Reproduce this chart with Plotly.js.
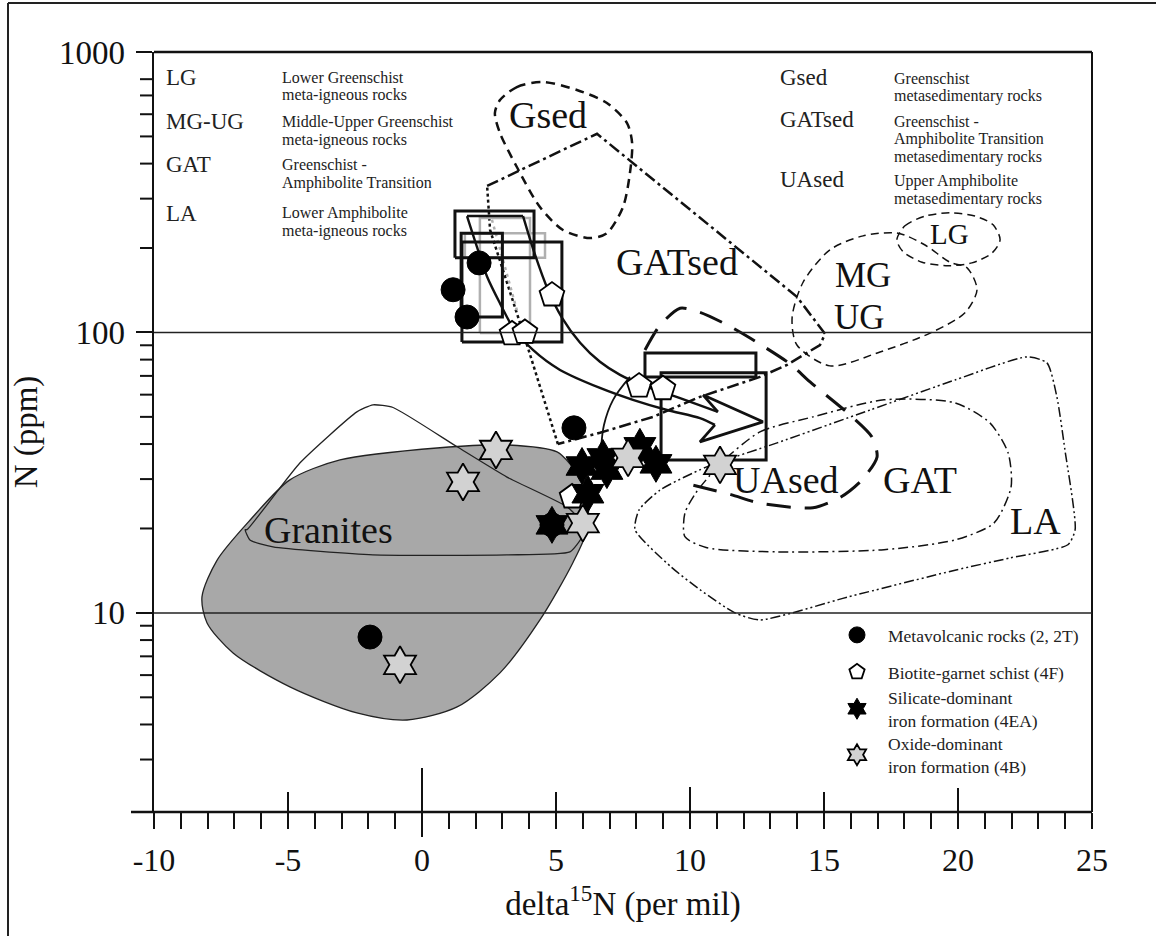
<!DOCTYPE html>
<html><head><meta charset="utf-8">
<script src="https://cdn.plot.ly/plotly-3.0.1.min.js"></script>
<style>body{margin:0;background:#fff}#chart{width:1156px;height:936px}</style>
</head><body><div id="chart"></div>
<script>
// ---------- DATA (delta15N in per mil, N in ppm) ----------
const metavolcanicX = [2.13, 1.16, 1.68, 5.67, -1.94, 4.85];
const metavolcanicY = [177, 142, 113.5, 45.7, 8.2, 20.6];
const schistX = [4.85, 3.36, 3.84, 8.10, 8.99, 5.6];
const schistY = [136, 98.8, 100, 64.4, 63, 25.9];
const silicateX = [5.97, 6.75, 6.90, 8.13, 8.73, 6.19, 4.85];
const silicateY = [33.4, 35.7, 32.3, 39.1, 34.0, 26.6, 20.6];
const oxideX = [2.76, 1.53, -0.82, 6.0, 11.12, 7.69];
const oxideY = [38.1, 29.3, 6.53, 20.9, 33.7, 35.7];

const granitesX = [5.63, 5.04, 3.17, 0.67, -3.06, -4.93, -6.42, -7.65, -8.21, -8.02, -7.05, -4.93, -2.43, -0.56, 1.31, 2.91, 4.40, 5.63, 6.16, 6.16, 5.90, 5.63];
const granitesY = [33.1, 37.5, 39.7, 38.8, 35.1, 29.8, 21.4, 15.4, 11.4, 9.21, 7.2, 5.45, 4.40, 4.15, 4.62, 6.11, 9.44, 15.1, 19.8, 27.4, 31.0, 33.1];
const granOutlineX = [-6.53, -4.55, -2.43, -1.83, -1.08, 1.31, 3.17, 5.41, 5.90, 5.97, 5.52, 3.17, -1.83, -5.56, -6.42, -6.6, -6.53];
const granOutlineY = [19.8, 34.3, 52.1, 55.2, 54, 39.1, 30.5, 23.9, 21.4, 18.7, 16.5, 16.1, 16.1, 17.2, 18.2, 19.8, 19.8];

const gsedX = [2.91, 3.54, 4.51, 5.78, 6.90, 7.65, 7.84, 7.76, 7.50, 6.90, 6.27, 5.26, 4.40, 3.54, 2.91, 2.72, 2.91];
const gsedY = [674, 750, 782, 732, 658, 558, 474, 371, 280, 226, 217, 232, 280, 389, 514, 606, 674];
const gatsedX = [2.43, 6.53, 13.99, 15.04, 14.85, 13.62, 12.61, 10.37, 8.62, 6.64, 5.07];
const gatsedY = [333, 511, 134, 98.8, 90.2, 76.6, 69.4, 58.9, 50.0, 43.9, 40.0];
const gatsedDotX = [5.07, 3.92, 2.54, 2.43];
const gatsedDotY = [40.0, 90.2, 232, 333];
const mgugX = [20.34, 20.71, 20.26, 18.96, 17.09, 15.22, 13.99, 13.81, 14.22, 15.22, 16.46, 17.76, 18.77, 19.70, 20.34];
const mgugY = [170, 142, 117.5, 99.5, 85.2, 76, 90.2, 113, 151, 197, 221, 226, 205, 178, 170];
const lgX = [17.72, 18.02, 18.77, 19.70, 20.63, 21.31, 21.57, 21.27, 20.52, 19.63, 18.66, 17.95, 17.72];
const lgY = [214, 240, 260, 267, 260, 242, 214, 192, 177, 173, 178, 194, 214];
const gatX = [11.19, 12.61, 14.59, 17.24, 19.89, 21.19, 21.87, 21.98, 21.34, 19.89, 17.24, 13.25, 10.60, 9.81, 9.81, 10.22, 10.75, 11.19];
const gatY = [34.5, 44.2, 50.0, 57.5, 56.1, 47.6, 37.2, 28.1, 20.9, 18.2, 16.8, 16.5, 17.1, 18.7, 22.7, 26.8, 31.0, 34.5];
const laX = [22.57, 23.32, 23.69, 23.99, 24.37, 24.10, 21.94, 19.89, 15.90, 12.61, 11.68, 10.37, 9.29, 7.95, 8.10, 8.88, 10.60, 13.25, 16.72, 19.89, 22.57];
const laY = [81.8, 77.9, 58.9, 38.1, 19.8, 17.5, 15.7, 14.2, 11.4, 9.44, 10, 12.1, 14.6, 19.8, 23.3, 27.4, 33.1, 40.4, 52.9, 67.7, 81.8];
const uasedX = [8.32, 8.88, 9.63, 10.37, 11.42, 12.24, 13.73, 14.48, 15.97, 16.79, 16.98, 16.42, 15.63, 14.59, 12.61, 11.53, 10.07];
const uasedY = [86.6, 106, 122, 118, 106, 95.5, 77.3, 66.6, 50.8, 42.4, 36.0, 29.8, 25.9, 23.7, 24.6, 26.4, 28.6];

const blackBoxX0 = [1.23, 1.49, 1.46, 8.32, 8.92];
const blackBoxX1 = [4.18, 5.22, 3.0, 12.46, 12.84];
const blackBoxY0 = [184.5, 92.5, 113.5, 69.4, 35.1];
const blackBoxY1 = [271, 210, 226, 84.5, 71.8];
const grayBoxX0 = [2.16, 1.6];
const grayBoxX1 = [4.03, 4.59];
const grayBoxY0 = [99.5, 184.5];
const grayBoxY1 = [256, 226];
const grayTieX = [2.61, 3.54];
const grayTieY = [252, 120];

const arrowUpperX = [3.77, 4.22, 4.70, 5.22, 5.90, 6.64, 7.39, 8.32, 9.63, 11.04];
const arrowUpperY = [260, 189, 142, 113, 91.9, 78.6, 70.6, 64.4, 58.3, 52.1];
const arrowLowerX = [1.68, 2.05, 2.43, 2.91, 3.40, 4.14, 5.15, 6.64, 7.87, 9.14, 10.37, 10.93];
const arrowLowerY = [260, 202, 158, 127, 104, 86.6, 73.5, 63.4, 57.5, 52.9, 49.5, 46.8];
const arrowTailX = [1.68, 3.77];
const arrowTailY = [260, 260];
const arrowHeadX = [11.04, 10.49, 12.72, 10.37, 10.93];
const arrowHeadY = [52.1, 59.8, 48.0, 40.7, 46.8];
const tieLineX = [7.76, 7.13, 6.79, 6.68];
const tieLineY = [69.4, 57.5, 46.8, 38.1];

const xTickVals = [-10, -5, 0, 5, 10, 15, 20, 25];
const xTickText = ['-10', '-5', '0', '5', '10', '15', '20', '25'];
const xUpTicks = [-5, 0, 5, 10, 15, 20];
const yTickVals = [10, 100, 1000];
const yTickText = ['10', '100', '1000'];
const yMinorTicks = [3,4,5,6,7,8,9,20,30,40,50,60,70,80,90,200,300,400,500,600,700,800];
const gridVals = [10, 100];

const regionLabels = ['Gsed', 'GATsed', 'MG', 'UG', 'LG', 'UAsed', 'GAT', 'LA', 'Granites'];
const regionLabelX = [4.70, 9.51, 16.46, 16.34, 19.70, 13.6, 18.6, 22.9, -3.5];
const regionLabelY = [596, 178, 160, 113.5, 225, 29.8, 29.8, 21.2, 19.8];

const keyLeftCodes = ['LG', 'MG-UG', 'GAT', 'LA'];
const keyLeftDesc = [['Lower Greenschist', 'meta-igneous rocks'], ['Middle-Upper Greenschist', 'meta-igneous rocks'], ['Greenschist -', 'Amphibolite Transition'], ['Lower Amphibolite', 'meta-igneous rocks']];
const keyRightCodes = ['Gsed', 'GATsed', 'UAsed'];
const keyRightDesc = [['Greenschist', 'metasedimentary rocks'], ['Greenschist -', 'Amphibolite Transition', 'metasedimentary rocks'], ['Upper Amphibolite', 'metasedimentary rocks']];

const seriesNames = ['Metavolcanic rocks (2, 2T)', 'Biotite-garnet schist (4F)', 'Silicate-dominant<br>iron formation (4EA)', 'Oxide-dominant<br>iron formation (4B)'];

// ---------- LAYOUT HELPERS ----------
const FONT = 'Liberation Serif, Times New Roman, serif';
const L = 154, R = 1092, T = 52, B = 812;
const px2x = p => (p - L) / (R - L);
const px2y = p => (B - p) / (B - T);

const traces = [];
function line(x, y, style, extra) {
  traces.push(Object.assign({type: 'scatter', mode: 'lines', x: x, y: y, showlegend: false, hoverinfo: 'skip', line: style}, extra || {}));
}
line(granitesX, granitesY, {color: '#222', width: 1.3, shape: 'spline', smoothing: 0.8}, {fill: 'toself', fillcolor: '#a8a8a8'});
line(granOutlineX, granOutlineY, {color: '#222', width: 1.3, shape: 'spline', smoothing: 0.5});
line(gsedX, gsedY, {color: '#111', width: 2.5, dash: '9px,6px', shape: 'spline', smoothing: 0.8});
line(gatsedX, gatsedY, {color: '#111', width: 2.5, dash: '12px,4px,3px,4px'});
line(gatsedDotX, gatsedDotY, {color: '#111', width: 2.5, dash: '3px,3px'});
line(mgugX, mgugY, {color: '#111', width: 1.5, dash: '8px,5px', shape: 'spline', smoothing: 0.8});
line(lgX, lgY, {color: '#111', width: 1.5, dash: '8px,5px', shape: 'spline', smoothing: 0.8});
line(gatX, gatY, {color: '#111', width: 1.5, dash: '10px,4px,2px,4px', shape: 'spline', smoothing: 0.7});
line(laX, laY, {color: '#111', width: 1.5, dash: '10px,3px,2px,3px,2px,3px', shape: 'spline', smoothing: 0.6});
line(uasedX, uasedY, {color: '#111', width: 3, dash: '24px,14px', shape: 'spline', smoothing: 0.7});
for (let i = 0; i < grayBoxX0.length; i++) {
  line([grayBoxX0[i], grayBoxX1[i], grayBoxX1[i], grayBoxX0[i], grayBoxX0[i]],
       [grayBoxY0[i], grayBoxY0[i], grayBoxY1[i], grayBoxY1[i], grayBoxY0[i]], {color: '#b0b0b0', width: 2.5});
}
line(grayTieX, grayTieY, {color: '#b0b0b0', width: 2.5, dash: '3px,4px'});
for (let i = 0; i < blackBoxX0.length; i++) {
  line([blackBoxX0[i], blackBoxX1[i], blackBoxX1[i], blackBoxX0[i], blackBoxX0[i]],
       [blackBoxY0[i], blackBoxY0[i], blackBoxY1[i], blackBoxY1[i], blackBoxY0[i]], {color: '#111', width: 3});
}
line(arrowUpperX, arrowUpperY, {color: '#111', width: 2.4, shape: 'spline', smoothing: 0.8});
line(arrowLowerX, arrowLowerY, {color: '#111', width: 2.4, shape: 'spline', smoothing: 0.8});
line(arrowTailX, arrowTailY, {color: '#111', width: 2.4});
line(arrowHeadX, arrowHeadY, {color: '#111', width: 2.8});
line(tieLineX, tieLineY, {color: '#111', width: 1.8, shape: 'spline'});

const markerStyles = [
  {symbol: 'circle', size: 24, color: '#000', line: {color: '#000', width: 1}},
  {symbol: 'pentagon', size: 26, color: '#fff', line: {color: '#000', width: 1.8}},
  {symbol: 'hexagram', size: 28, color: '#000', line: {color: '#000', width: 1}},
  {symbol: 'hexagram', size: 28, color: '#d2d2d2', line: {color: '#000', width: 1.8}}
];
const seriesX = [metavolcanicX, schistX, silicateX, oxideX];
const seriesY = [metavolcanicY, schistY, silicateY, oxideY];
const legendIds = ['legend', 'legend2', 'legend3', 'legend4'];
const legendRowsPx = [635, 672, 709, 755];
for (let i = 0; i < 4; i++) {
  traces.push({type: 'scatter', mode: 'markers', x: seriesX[i], y: seriesY[i], name: seriesNames[i],
    marker: markerStyles[i], legend: legendIds[i], showlegend: true, hoverinfo: 'x+y'});
}

const annotations = [];
regionLabels.forEach((t, i) => annotations.push({text: t, x: regionLabelX[i], y: Math.log10(regionLabelY[i]),
  xref: 'x', yref: 'y', showarrow: false, borderpad: 0,
  font: {family: FONT, size: (t === 'LG') ? 29 : ((t === 'MG' || t === 'UG') ? 35 : 38), color: '#111'}}));
function keyText(text, pxX, pxY, size) {
  annotations.push({text: text, x: px2x(pxX), y: px2y(pxY), xref: 'paper', yref: 'paper', xanchor: 'left', yanchor: 'middle',
    showarrow: false, borderpad: 0, font: {family: FONT, size: size, color: '#222'}});
}
const leftRows = [77, 122, 165, 213];
keyLeftCodes.forEach((c, i) => {
  keyText(c, 165, leftRows[i], 23);
  keyLeftDesc[i].forEach((d, j) => keyText(d, 281, leftRows[i] + j * 18, 16));
});
const rightRows = [77, 120, 180];
keyRightCodes.forEach((c, i) => {
  keyText(c, 779, rightRows[i], 23);
  keyRightDesc[i].forEach((d, j) => keyText(d, 893, rightRows[i] + 1 + j * 18, 16));
});

// shapes on the log axis take data values (ppm) directly
const shapes = [];
const frame = {color: '#111', width: 2.5};
const tickStyle = {color: '#111', width: 2};
shapes.push({type: 'line', xref: 'paper', yref: 'paper', x0: px2x(131), x1: 1, y0: 0, y1: 0, line: frame});
shapes.push({type: 'line', xref: 'paper', yref: 'paper', x0: 0, x1: 1, y0: 1, y1: 1, line: frame});
shapes.push({type: 'line', xref: 'paper', yref: 'paper', x0: 1, x1: 1, y0: 0, y1: 1, line: tickStyle});
const upLen = [20, 44, 20, 25, 20, 24];
xUpTicks.forEach((v, i) => shapes.push({type: 'line', xref: 'x', yref: 'paper', x0: v, x1: v, y0: 0, y1: upLen[i] / (B - T), line: tickStyle}));
shapes.push({type: 'line', xref: 'x', yref: 'paper', x0: 0, x1: 0, y0: 0, y1: -25 / (B - T), line: tickStyle});
yMinorTicks.forEach(v => shapes.push({type: 'line', xref: 'paper', yref: 'y', x0: -14 / (R - L), x1: 0, y0: v, y1: v, line: tickStyle}));
gridVals.forEach(v => shapes.push({type: 'line', xref: 'paper', yref: 'y', x0: 0, x1: 1, y0: v, y1: v, line: {color: '#222', width: 1.5}}));
shapes.push({type: 'line', xref: 'paper', yref: 'paper', x0: px2x(8), x1: px2x(1156), y0: px2y(3), y1: px2y(3), line: {color: '#222', width: 2}});
shapes.push({type: 'line', xref: 'paper', yref: 'paper', x0: px2x(8), x1: px2x(8), y0: px2y(3), y1: px2y(936), line: {color: '#222', width: 2}});

const legendBase = {xanchor: 'left', yanchor: 'middle', bgcolor: 'rgba(0,0,0,0)', borderwidth: 0, itemwidth: 52,
  font: {family: FONT, size: 17.5, color: '#222'}, valign: 'middle'};
const layout = {
  width: 1156, height: 936,
  margin: {l: L, r: 1156 - R, t: T, b: 936 - B},
  paper_bgcolor: '#fff', plot_bgcolor: '#fff',
  xaxis: {range: [-10, 25], showline: false, showgrid: false, zeroline: false,
    tickmode: 'array', tickvals: xTickVals, ticktext: xTickText,
    ticks: 'outside', ticklen: 16, tickwidth: 2, tickcolor: '#111', ticklabelstandoff: 4,
    minor: {dtick: 1, ticks: 'outside', ticklen: 16, tickwidth: 2, tickcolor: '#111', showgrid: false},
    tickfont: {family: FONT, size: 32, color: '#111'},
    title: {text: 'delta<sup>15</sup>N (per mil)', font: {family: FONT, size: 33, color: '#111'}, standoff: 14}},
  yaxis: {type: 'log', range: [Math.log10(1.95), 3], showline: true, linecolor: '#111', linewidth: 2.5, mirror: false,
    showgrid: false, zeroline: false, tickmode: 'array', tickvals: yTickVals, ticktext: yTickText,
    ticks: 'outside', ticklen: 16, tickwidth: 2, tickcolor: '#111', ticklabelstandoff: 4,
    tickfont: {family: FONT, size: 33, color: '#111'},
    title: {text: 'N (ppm)', font: {family: FONT, size: 33, color: '#111'}, standoff: 12}},
  showlegend: true,
  annotations: annotations,
  shapes: shapes
};
legendIds.forEach((id, i) => {
  layout[id] = Object.assign({}, legendBase, {x: px2x(826), y: px2y(legendRowsPx[i])});
});
Plotly.newPlot('chart', traces, layout, {displayModeBar: false, staticPlot: true});
</script></body></html>
